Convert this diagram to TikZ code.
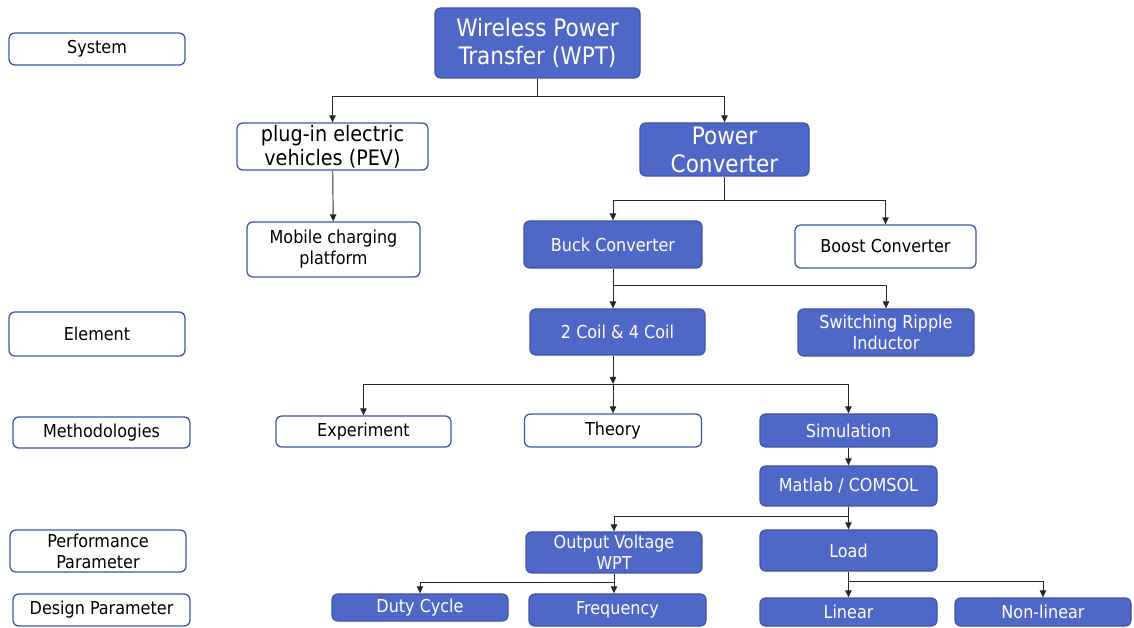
\documentclass[tikz,border=0pt]{standalone}
\usepackage{fontspec}
\setmainfont{DejaVu Sans Condensed}
\usetikzlibrary{arrows.meta}
\definecolor{boxblue}{RGB}{79,104,200}
\definecolor{edgeblue}{RGB}{62,84,168}
\begin{document}
\begin{tikzpicture}[x=0.03cm, y=-0.03cm]
\useasboundingbox (0,0) rectangle (1134,628);
\tikzset{sz/.style 2 args={minimum width=#1*0.03cm, minimum height=#2*0.03cm}}

% level labels on the left
\tikzset{every node/.style={draw=edgeblue, line width=1.1pt, rounded corners=5pt, inner sep=0pt, align=center, font=\fontsize{15.2}{18}\selectfont}}
\node[sz={176}{32}] (sys) at (97,49) {System};
\node[sz={176}{44}] (elem) at (97,334) {Element};
\node[sz={177}{31}] (meth) at (101.5,432.5) {Methodologies};
\node[sz={176}{42}] (perf) at (98,551) {Performance\\Parameter};
\node[sz={177}{32}] (des) at (101.5,610) {Design Parameter};

% white boxes
\node[sz={191}{47}, font=\fontsize{18.2}{20.5}\selectfont] (pev) at (332.5,146.5) {plug-in electric\\vehicles (PEV)};
\node[sz={173}{55}] (mob) at (333.5,249.5) {Mobile charging\\platform};
\node[sz={181}{43}] (boost) at (885.5,246.5) {Boost Converter};
\node[sz={175}{31}] (exp) at (363.5,431.5) {Experiment};
\node[sz={177}{33}] (theo) at (613,430.5) {Theory};

% blue boxes
\tikzset{every node/.style={draw=edgeblue, fill=boxblue, text=white, line width=1.1pt, rounded corners=5pt, inner sep=0pt, align=center, font=\fontsize{15.2}{18}\selectfont}}
\node[sz={205}{70}, font=\fontsize{20.5}{24}\selectfont] (wpt) at (537.5,43) {Wireless Power\\Transfer (WPT)};
\node[sz={169}{53}, font=\fontsize{20.5}{24}\selectfont] (pc) at (724.5,149.5) {Power\\Converter};
\node[sz={178}{47}] (buck) at (613,244.5) {Buck Converter};
\node[sz={175}{46}] (coil) at (617.5,332) {2 Coil \& 4 Coil};
\node[sz={176}{47}] (sri) at (886,332.5) {Switching Ripple\\Inductor};
\node[sz={177}{33}] (sim) at (848.5,430.5) {Simulation};
\node[sz={177}{40}] (mat) at (848.5,486) {Matlab / COMSOL};
\node[sz={176}{41}] (out) at (614,552.5) {Output Voltage\\WPT};
\node[sz={177}{41}] (load) at (848.5,550.5) {Load};
\node[sz={176}{27}] (duty) at (420,607.5) {Duty Cycle};
\node[sz={177}{32}] (freq) at (617.5,610) {Frequency};
\node[sz={177}{28}] (lin) at (848.5,612) {Linear};
\node[sz={176}{28}] (nonlin) at (1043,612) {Non-linear};

% branch points
\coordinate (j1) at (537.5,96);
\coordinate (j2) at (724.5,200);
\coordinate (j3) at (613,285);
\coordinate (j4) at (613,384);
\coordinate (j5) at (848.5,516);
\coordinate (j6) at (614,582);
\coordinate (j7) at (848.5,581);

\tikzset{mystyle/.style={-{Triangle[length=6pt,width=5.5pt]}, line width=0.8pt, black!85}}
\draw[mystyle] (wpt) -- (j1) -| (pev);
\draw[mystyle] (j1) -| (pc);
\draw[mystyle] (pev) -- (mob);
\draw[mystyle] (pc) -- (j2) -| (buck);
\draw[mystyle] (j2) -| (boost);
\draw[mystyle] (buck) -- (buck |- coil.north);
\draw[mystyle] (j3) -| (sri);
\draw[mystyle] (buck |- coil.south) -- (j4);
\draw[mystyle] (j4) -| (exp);
\draw[mystyle] (j4) -- (theo);
\draw[mystyle] (j4) -| (sim);
\draw[mystyle] (sim) -- (mat);
\draw[mystyle] (mat) -- (load);
\draw[mystyle] (j5) -| (out);
\draw[mystyle] (out) -- (out |- freq.north);
\draw[mystyle] (j6) -| (duty);
\draw[mystyle] (load) -- (lin);
\draw[mystyle] (j7) -| (nonlin);
\end{tikzpicture}
\end{document}
